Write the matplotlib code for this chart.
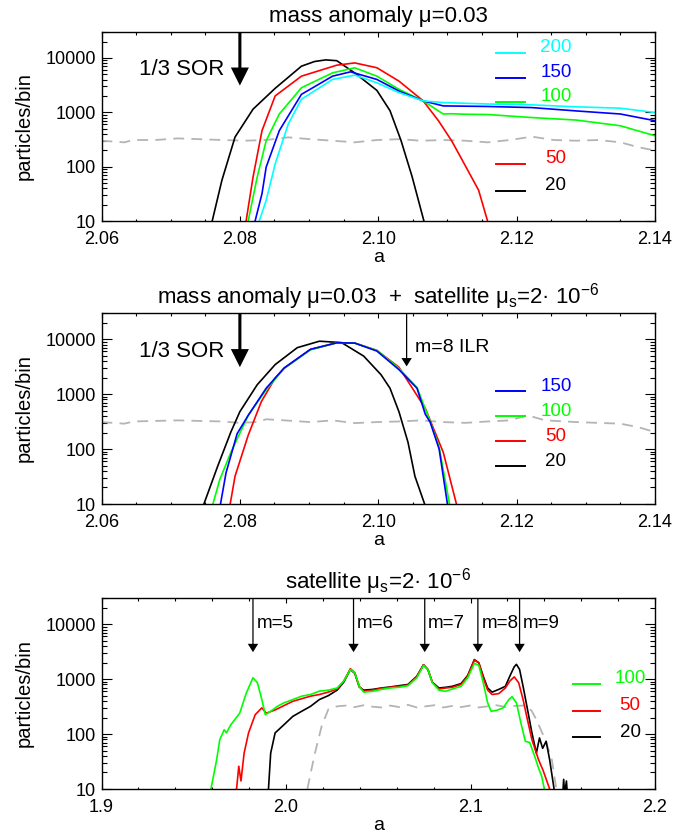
import numpy as np
import matplotlib
matplotlib.use('Agg')
import matplotlib.pyplot as plt
from matplotlib.ticker import MultipleLocator, LogLocator, NullFormatter, FormatStrFormatter

plt.rcParams['font.family'] = ['Liberation Sans', 'DejaVu Sans']
plt.rcParams['mathtext.fontset'] = 'custom'
plt.rcParams['mathtext.rm'] = 'Liberation Sans'
plt.rcParams['mathtext.default'] = 'regular'

# ---------------- panel 1: mass anomaly only ----------------
p1_a_200 = [2.0828, 2.0838, 2.0851, 2.0870, 2.0889, 2.0934, 2.0966, 2.0998, 2.1030, 2.1065,
            2.1094, 2.1158, 2.1222, 2.1286, 2.1350, 2.1400]
p1_n_200 = [10, 24, 112, 610, 1740, 4020, 4830, 3490, 2300, 1620,
            1510, 1420, 1370, 1260, 1190, 990]
p1_a_150 = [2.0822, 2.0832, 2.0838, 2.0857, 2.0889, 2.0934, 2.0960, 2.0998, 2.1030, 2.1065,
            2.1094, 2.1158, 2.1222, 2.1286, 2.1350, 2.1400]
p1_n_150 = [10, 32, 98, 460, 2140, 4620, 5550, 4020, 2460, 1620,
            1310, 1280, 1220, 1060, 930, 700]
p1_a_100 = [2.0812, 2.0825, 2.0838, 2.0857, 2.0889, 2.0934, 2.0966, 2.0998, 2.1030, 2.1065,
            2.1087, 2.1094, 2.1106, 2.1126, 2.1158, 2.1222, 2.1286, 2.1350, 2.1400]
p1_n_100 = [10, 64, 300, 930, 2830, 5320, 6580, 4620, 2640, 1620,
            1060, 930, 940, 920, 910, 800, 720, 565, 370]
p1_a_50 = [2.0809, 2.0819, 2.0832, 2.0851, 2.0889, 2.0940, 2.0966, 2.0998, 2.1030, 2.1065,
           2.1087, 2.1106, 2.1119, 2.1145, 2.1158]
p1_n_50 = [10, 64, 460, 2000, 4620, 7350, 8100, 6600, 3740, 1620,
           700, 300, 150, 37, 10]
p1_a_20 = [2.0760, 2.0774, 2.0793, 2.0819, 2.0851, 2.0889, 2.0908, 2.0924, 2.0940, 2.0966,
           2.0998, 2.1017, 2.1033, 2.1049, 2.1066]
p1_n_20 = [10, 56, 350, 1140, 2760, 7050, 8600, 9200, 8900, 5300,
           2530, 1070, 300, 65, 10]
p1_a_ref = [2.0600, 2.0633, 2.0646, 2.0678, 2.0710, 2.0742, 2.0774, 2.0806, 2.0838, 2.0870,
            2.0902, 2.0934, 2.0966, 2.0998, 2.1030, 2.1062, 2.1094, 2.1126, 2.1158, 2.1190,
            2.1222, 2.1254, 2.1286, 2.1318, 2.1350, 2.1376, 2.1400]
p1_n_ref = [300, 280, 309, 309, 331, 320, 309, 300, 309, 346,
            320, 300, 280, 309, 320, 300, 309, 300, 280, 309,
            356, 309, 300, 309, 280, 228, 198]

# ---------------- panel 2: mass anomaly + satellite ----------------
p2_a_150 = [2.0772, 2.0780, 2.0796, 2.0812, 2.0838, 2.0864, 2.0902, 2.0940, 2.0966, 2.0998,
            2.1030, 2.1056, 2.1068, 2.1075, 2.1088, 2.1100]
p2_n_150 = [10, 37, 190, 410, 1280, 3000, 6550, 8600, 8500, 6090,
            2790, 1280, 430, 310, 100, 10]
p2_a_100 = [2.0761, 2.0771, 2.0787, 2.0812, 2.0838, 2.0864, 2.0902, 2.0940, 2.0966, 2.0998,
            2.1030, 2.1056, 2.1075, 2.1088, 2.1103]
p2_n_100 = [10, 28, 87, 410, 1200, 2950, 6400, 8600, 8500, 6260,
            2950, 1320, 320, 108, 10]
p2_a_50 = [2.0786, 2.0793, 2.0812, 2.0831, 2.0851, 2.0864, 2.0902, 2.0940, 2.0966, 2.0998,
           2.1030, 2.1068, 2.1094, 2.1113]
p2_n_50 = [10, 32, 178, 730, 1960, 2950, 6500, 8600, 8500, 6260,
           3080, 550, 87, 10]
p2_a_20 = [2.0748, 2.0768, 2.0787, 2.0800, 2.0825, 2.0851, 2.0883, 2.0915, 2.0947, 2.0979,
           2.1004, 2.1017, 2.1030, 2.1043, 2.1053, 2.1067]
p2_n_20 = [10, 49, 205, 480, 1480, 3450, 7020, 9200, 8680, 4920,
           2260, 1280, 475, 133, 32, 10]
p2_a_ref = [2.0600, 2.0633, 2.0646, 2.0710, 2.0774, 2.0800, 2.0825, 2.0838, 2.0864, 2.0902,
            2.0934, 2.0966, 2.0998, 2.1030, 2.1062, 2.1094, 2.1126, 2.1158, 2.1190, 2.1216,
            2.1241, 2.1286, 2.1350, 2.1376, 2.1400]
p2_n_ref = [310, 290, 318, 333, 318, 300, 310, 349, 333, 310,
            333, 297, 310, 318, 333, 310, 300, 318, 333, 412,
            333, 310, 290, 250, 204]

# ---------------- panel 3: satellite only ----------------
p3_a_100 = [1.9593, 1.9605, 1.9624, 1.9641, 1.9665, 1.9677, 1.9701, 1.9749, 1.9785, 1.9821,
            1.9845, 1.9869, 1.9888, 1.9917, 1.9953, 1.9989, 2.0037, 2.0085, 2.0133, 2.0181,
            2.0229, 2.0277, 2.0313, 2.0349, 2.0373, 2.0397, 2.0421, 2.0469, 2.0517, 2.0565,
            2.0613, 2.0661, 2.0709, 2.0745, 2.0769, 2.0793, 2.0829, 2.0865, 2.0901, 2.0949,
            2.0985, 2.1021, 2.1045, 2.1069, 2.1093, 2.1112, 2.1141, 2.1177, 2.1208, 2.1225,
            2.1249, 2.1273, 2.1297, 2.1321, 2.1345, 2.1369, 2.1386, 2.1400]
p3_n_100 = [10, 16, 34, 79, 120, 105, 148, 240, 560, 1060,
            860, 425, 225, 260, 320, 370, 425, 490, 525, 605,
            630, 690, 920, 1500, 1300, 740, 580, 600, 650, 690,
            710, 760, 1060, 1780, 1500, 860, 630, 600, 660, 740,
            1060, 1940, 1780, 860, 370, 260, 270, 300, 425, 480,
            370, 160, 74, 70, 42, 24, 17, 10]
p3_a_50 = [1.9732, 1.9744, 1.9756, 1.9773, 1.9797, 1.9833, 1.9869, 1.9893, 1.9941, 1.9989,
           2.0037, 2.0085, 2.0133, 2.0181, 2.0229, 2.0277, 2.0313, 2.0349, 2.0373, 2.0397,
           2.0421, 2.0469, 2.0517, 2.0565, 2.0613, 2.0661, 2.0709, 2.0745, 2.0769, 2.0793,
           2.0829, 2.0865, 2.0901, 2.0949, 2.0985, 2.1021, 2.1045, 2.1069, 2.1093, 2.1117,
           2.1153, 2.1189, 2.1213, 2.1237, 2.1261, 2.1285, 2.1309, 2.1333, 2.1369, 2.1393,
           2.1429]
p3_n_50 = [10, 26, 14, 45, 105, 225, 300, 240, 275, 330,
           395, 440, 490, 525, 580, 660, 920, 1550, 1300, 740,
           600, 630, 680, 710, 740, 780, 1100, 1830, 1500, 880,
           660, 690, 710, 800, 1130, 2230, 1980, 1060, 630, 525,
           545, 690, 920, 1100, 860, 425, 180, 79, 34, 22,
           10]
p3_a_20 = [1.9905, 1.9917, 1.9941, 1.9989, 2.0037, 2.0085, 2.0133, 2.0181, 2.0229, 2.0277,
           2.0313, 2.0349, 2.0373, 2.0397, 2.0421, 2.0469, 2.0517, 2.0565, 2.0613, 2.0661,
           2.0709, 2.0745, 2.0769, 2.0793, 2.0829, 2.0865, 2.0901, 2.0949, 2.0985, 2.1021,
           2.1045, 2.1069, 2.1093, 2.1117, 2.1153, 2.1189, 2.1213, 2.1237, 2.1249, 2.1266,
           2.1285, 2.1309, 2.1333, 2.1357, 2.1374, 2.1391, 2.1410, 2.1429, 2.1453, np.nan,
           2.1500, 2.1505, 2.1510, 2.1520, 2.1525]
p3_n_20 = [10, 45, 105, 148, 210, 260, 320, 425, 500, 630,
           880, 1500, 1270, 720, 630, 650, 690, 720, 760, 800,
           1130, 1830, 1500, 880, 690, 710, 740, 830, 1170, 2270,
           1980, 1130, 690, 580, 650, 740, 1130, 1680, 1860, 1500,
           740, 280, 105, 45, 85, 55, 74, 34, 10, np.nan,
           8, 15, 8, 14, 8]
p3_a_ref = [2.0116, 2.0133, 2.0157, 2.0193, 2.0229, 2.0277, 2.0325, 2.0373, 2.0421, 2.0469,
            2.0517, 2.0565, 2.0613, 2.0661, 2.0709, 2.0757, 2.0805, 2.0853, 2.0901, 2.0949,
            2.0997, 2.1045, 2.1093, 2.1141, 2.1189, 2.1237, 2.1285, 2.1309, 2.1333, 2.1357,
            2.1405, 2.1441, 2.1465]
p3_n_ref = [10, 19, 45, 138, 280, 320, 330, 310, 335, 315,
            305, 330, 310, 340, 305, 320, 335, 305, 325, 310,
            330, 305, 320, 335, 310, 325, 330, 320, 260, 183,
            79, 34, 10]

colors = {'200': '#00ffff', '150': '#0000ff', '100': '#00ff00', '50': '#ff0000', '20': '#000000'}
ref_color = '#b4b4b4'

W, H = 694, 836
fig = plt.figure(figsize=(W / 100, H / 100), dpi=100)
left, width = 101.5 / W, 553.5 / W
ax1 = fig.add_axes([left, 1 - 221 / H, width, 189 / H])
ax2 = fig.add_axes([left, 1 - 504 / H, width, 191 / H])
ax3 = fig.add_axes([left, 1 - 789 / H, width, 191 / H])


def style(ax, xlim, major, minor, fmt, title):
    ax.set_yscale('log')
    ax.set_xlim(*xlim)
    ax.set_ylim(10, 3e4)
    ax.xaxis.set_major_locator(MultipleLocator(major))
    ax.xaxis.set_minor_locator(MultipleLocator(minor))
    ax.xaxis.set_major_formatter(FormatStrFormatter(fmt))
    ax.set_yticks([10, 100, 1000, 10000], labels=['10', '100', '1000', '10000'])
    ax.yaxis.set_minor_locator(LogLocator(base=10, subs=np.arange(2, 10)))
    ax.yaxis.set_minor_formatter(NullFormatter())
    ax.tick_params(which='both', direction='in', top=True, right=True, width=0.8,
                   labelsize=13)
    ax.tick_params(axis='x', which='major', length=3.6, pad=7)
    ax.tick_params(axis='x', which='minor', length=1.8)
    ax.tick_params(axis='y', which='major', length=7, pad=4)
    ax.tick_params(axis='y', which='minor', length=3.6)
    for s in ax.spines.values():
        s.set_linewidth(1.0)
    ax.set_xlabel('a', fontsize=14, labelpad=1)
    ax.set_ylabel('particles/bin', fontsize=14.5)
    ax.yaxis.set_label_coords(-0.122, 0.5)
    ax.set_title(title, fontsize=16, pad=7)


def legend(ax, items, x0, x1, xt, ys, dy):
    for (lab, y) in zip(items, ys):
        ax.plot([x0, x1], [y, y], color=colors[lab], lw=1.4, transform=ax.transAxes)
        ax.text(xt, y + dy, lab, color=colors[lab], fontsize=13.5, ha='center', va='center',
                transform=ax.transAxes)


def arrow(ax, a, tip, big=False):
    if big:
        props = dict(facecolor='k', edgecolor='k', lw=0, width=2.2, headwidth=13,
                     headlength=13, shrink=0)
    else:
        props = dict(facecolor='k', edgecolor='k', lw=0, width=0.9, headwidth=7.5,
                     headlength=6, shrink=0)
    ax.annotate('', xy=(a, tip), xycoords='data', xytext=(a, 1.0),
                textcoords=('data', 'axes fraction'), arrowprops=props)


lw = 1.2
dash = (6, 4)

# panel 1
ax1.plot(p1_a_ref, p1_n_ref, color=ref_color, lw=1.3, dashes=dash)
ax1.plot(p1_a_20, p1_n_20, color=colors['20'], lw=lw)
ax1.plot(p1_a_50, p1_n_50, color=colors['50'], lw=lw)
ax1.plot(p1_a_100, p1_n_100, color=colors['100'], lw=lw)
ax1.plot(p1_a_150, p1_n_150, color=colors['150'], lw=lw)
ax1.plot(p1_a_200, p1_n_200, color=colors['200'], lw=lw)
style(ax1, (2.06, 2.14), 0.02, 0.005, '%.2f', 'mass anomaly μ=0.03')
legend(ax1, ['200', '150', '100', '50', '20'], 0.712, 0.766, 0.821,
       [0.887, 0.756, 0.630, 0.302, 0.159], 0.029)
arrow(ax1, 2.08, 3100, big=True)
ax1.text(0.2216, 0.80, '1/3 SOR', fontsize=16, ha='right', va='center', transform=ax1.transAxes)

# panel 2
ax2.plot(p2_a_ref, p2_n_ref, color=ref_color, lw=1.3, dashes=dash)
ax2.plot(p2_a_20, p2_n_20, color=colors['20'], lw=lw)
ax2.plot(p2_a_50, p2_n_50, color=colors['50'], lw=lw)
ax2.plot(p2_a_100, p2_n_100, color=colors['100'], lw=lw)
ax2.plot(p2_a_150, p2_n_150, color=colors['150'], lw=lw)
style(ax2, (2.06, 2.14), 0.02, 0.005, '%.2f',
      'mass anomaly μ=0.03  +  satellite μ$_s$=2· 10$^{-6}$')
legend(ax2, ['150', '100', '50', '20'], 0.712, 0.766, 0.821,
       [0.590, 0.459, 0.328, 0.197], 0.026)
arrow(ax2, 2.08, 3100, big=True)
ax2.text(0.2216, 0.80, '1/3 SOR', fontsize=16, ha='right', va='center', transform=ax2.transAxes)
arrow(ax2, 2.1041, 3200)
ax2.text(0.5656, 0.817, 'm=8 ILR', fontsize=14, ha='left', va='center', transform=ax2.transAxes)

# panel 3
ax3.plot(p3_a_ref, p3_n_ref, color=ref_color, lw=1.3, dashes=dash)
ax3.plot(p3_a_20, p3_n_20, color=colors['20'], lw=lw)
ax3.plot(p3_a_50, p3_n_50, color=colors['50'], lw=lw)
ax3.plot(p3_a_100, p3_n_100, color=colors['100'], lw=lw)
style(ax3, (1.9, 2.2), 0.1, 0.02, '%.1f', 'satellite μ$_s$=2· 10$^{-6}$')
legend(ax3, ['100', '50', '20'], 0.851, 0.900, 0.955,
       [0.550, 0.410, 0.270], 0.027)
res_a = [1.9821, 2.0366, 2.0752, 2.1040, 2.1266]
res_m = ['m=5', 'm=6', 'm=7', 'm=8', 'm=9']
for a, m in zip(res_a, res_m):
    arrow(ax3, a, 3100)
    ax3.annotate(m, xy=(a, 0.866), xycoords=('data', 'axes fraction'), xytext=(2.5, 0),
                 textcoords='offset points', fontsize=13.5, ha='left', va='center')

fig.savefig('out.png', dpi=100)
